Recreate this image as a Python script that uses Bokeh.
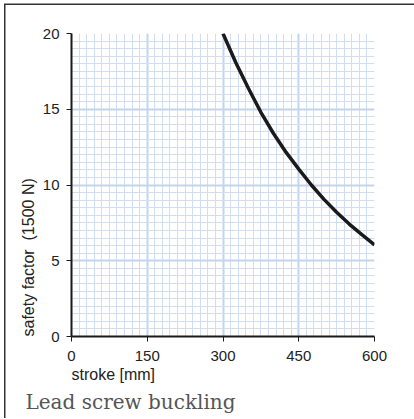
from bokeh.plotting import figure
from bokeh.models import Range1d, FixedTicker, Title
from bokeh.embed import file_html
from bokeh.resources import INLINE

# data
stroke = [300, 325, 350, 375, 400, 425, 450, 475, 500, 525, 550, 575, 600]
safety = [20.0, 18.1, 16.4, 14.8, 13.4, 12.15, 11.05, 10.0, 9.05, 8.2, 7.42, 6.72, 6.05]
x_ticks = [0, 150, 300, 450, 600]
y_ticks = [0, 5, 10, 15, 20]
x_label = "stroke [mm]"
y_label = "safety factor \u00a0(1500 N)"
title_text = "Lead screw buckling"

p = figure(width=414, height=418, output_backend="svg", toolbar_location=None,
           x_range=Range1d(0, 600), y_range=Range1d(0, 20),
           min_border_left=71, min_border_right=40, min_border_top=33, min_border_bottom=82)
p.border_fill_color = None
p.styles = {"box-shadow": "inset 4px 3.5px 0 0 #ffffff, inset 5.5px 5px 0 0 #333333"}
p.outline_line_color = None

for ax, ticks in ((p.xaxis, x_ticks), (p.yaxis, y_ticks)):
    ax.ticker = FixedTicker(ticks=ticks, minor_ticks=[])
    ax.axis_line_color = "#1a1a1a"
    ax.axis_line_width = 2
    ax.major_tick_line_color = "#1a1a1a"
    ax.major_tick_line_width = 1
    ax.major_tick_out = 5
    ax.major_tick_in = 0
    ax.minor_tick_line_color = None
    ax.major_label_text_font = "Liberation Sans"
    ax.major_label_text_font_size = "15px"
    ax.major_label_text_color = "#222222"
p.xaxis.major_label_standoff = 9
p.yaxis.major_label_standoff = 7

p.xgrid.ticker = FixedTicker(ticks=x_ticks, minor_ticks=list(range(0, 601, 15)))
p.ygrid.ticker = FixedTicker(ticks=y_ticks, minor_ticks=[i * 0.5 for i in range(41)])
for g in (p.xgrid, p.ygrid):
    g.grid_line_color = "#c3d4ee"
    g.grid_line_width = 2
    g.minor_grid_line_color = "#d0ddf2"
    g.minor_grid_line_width = 1

p.line(stroke, safety, line_color="#1a1a1a", line_width=3.5)

p.add_layout(Title(text=x_label, align="left", offset=0, standoff=1,
                   text_font="Liberation Sans", text_font_size="16px",
                   text_font_style="normal", text_color="#222222"), "below")
p.add_layout(Title(text=title_text, align="left", offset=-46, standoff=8,
                   text_font="DejaVu Serif", text_font_size="20px",
                   text_font_style="normal", text_color="#555555"), "below")
p.add_layout(Title(text=y_label, align="left", offset=0, standoff=6,
                   text_font="Liberation Sans", text_font_size="16px",
                   text_font_style="normal", text_color="#222222"), "left")

open("out.html", "w").write(file_html(p, INLINE))
